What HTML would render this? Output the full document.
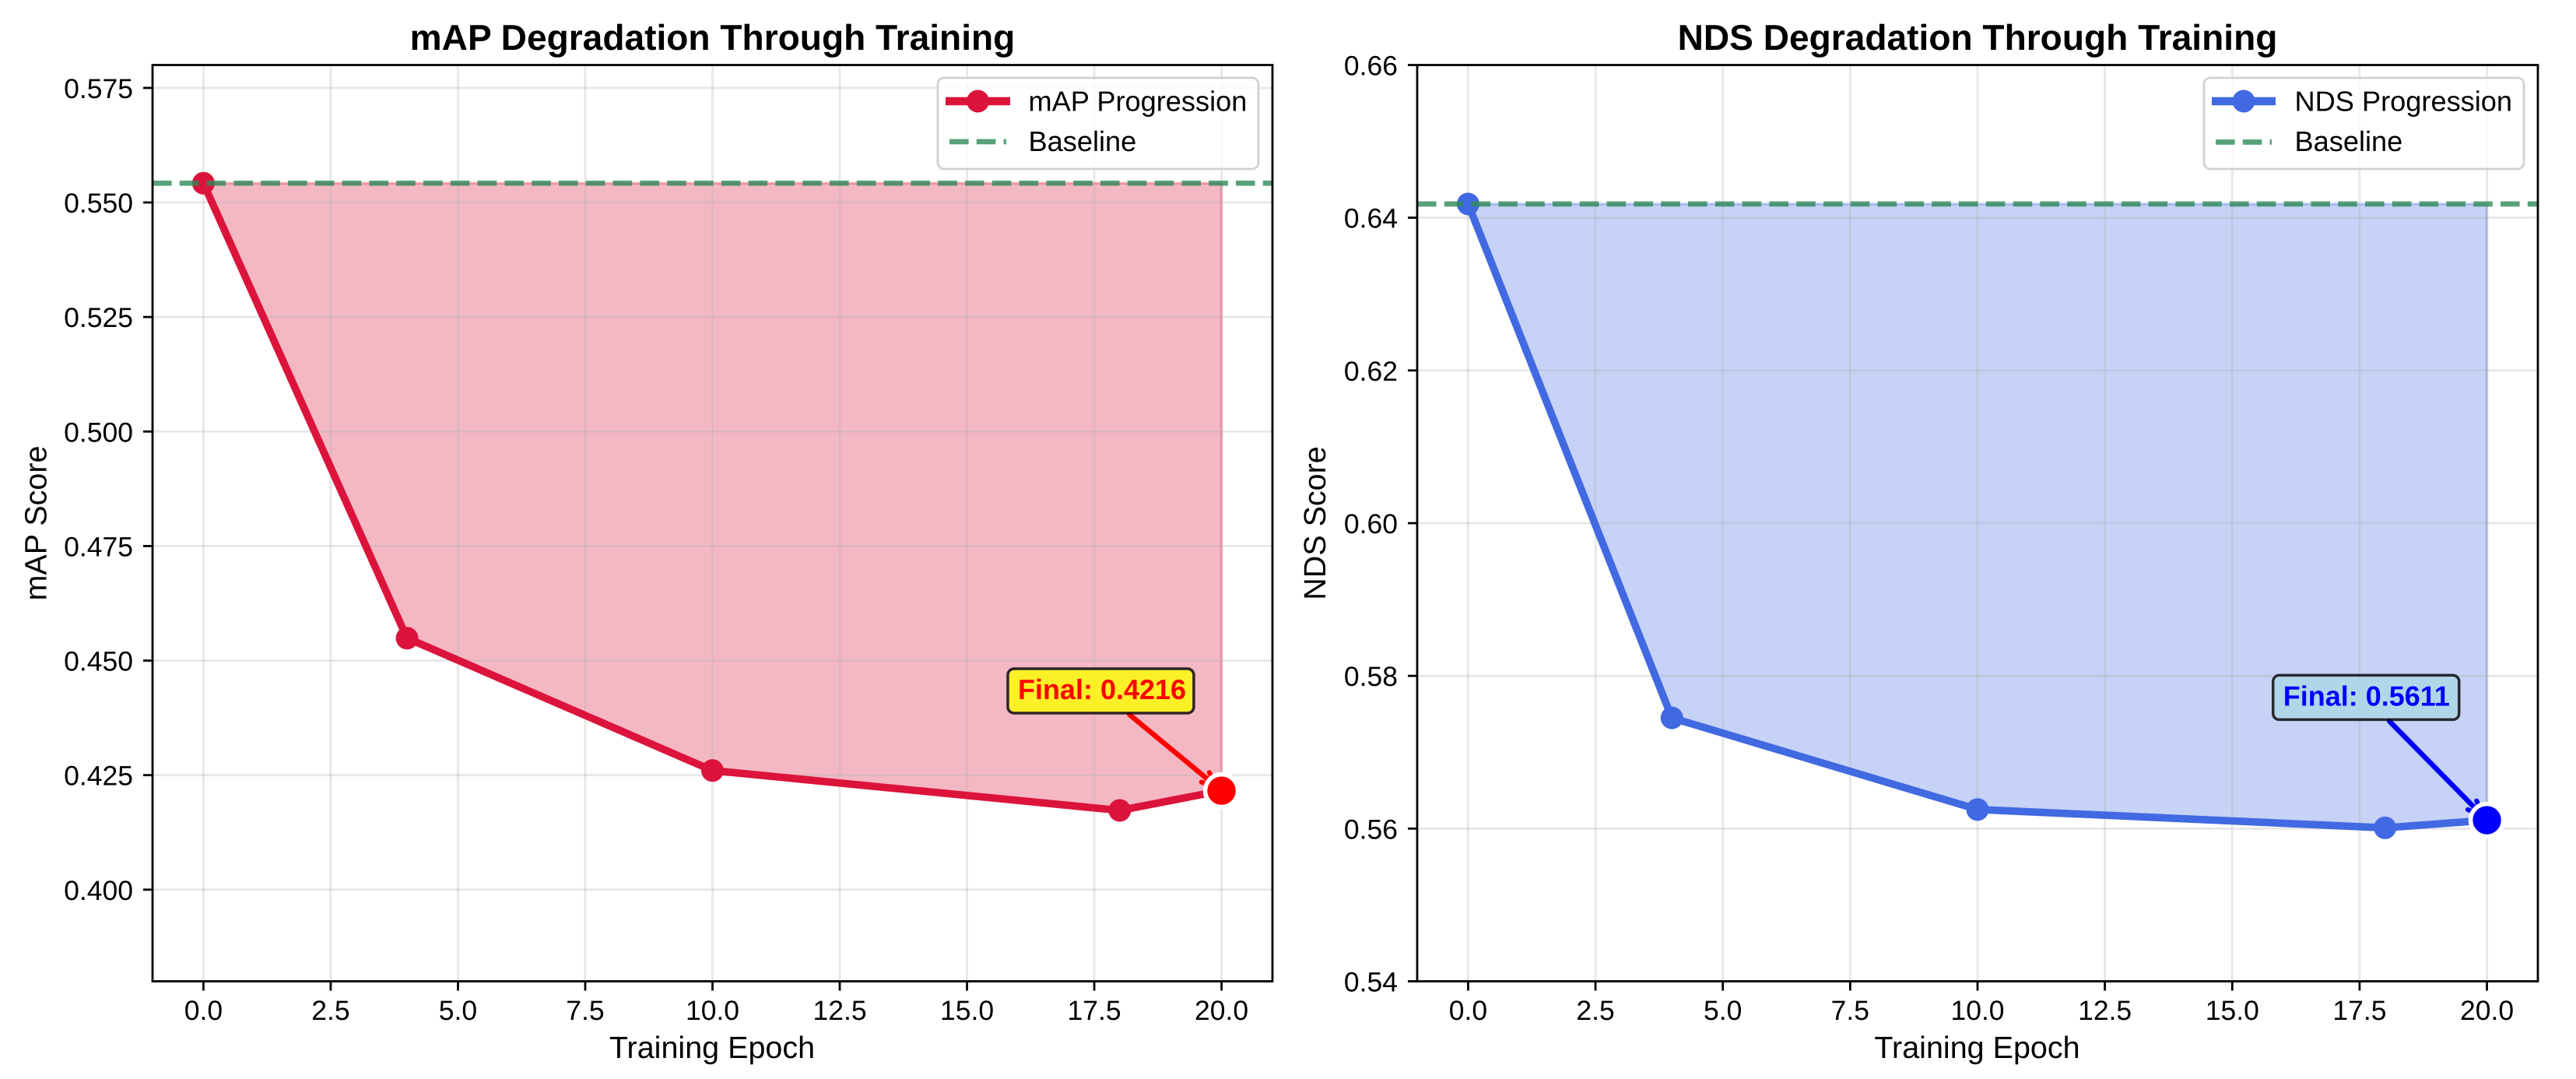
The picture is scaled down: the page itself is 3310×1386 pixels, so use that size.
<!DOCTYPE html>
<html lang="en">
<head>
<meta charset="utf-8">
<title>mAP and NDS Degradation Through Training</title>
<style>
html,body{margin:0;padding:0;background:#fff;}
body{width:3310px;height:1386px;overflow:hidden;}
svg{display:block;font-family:"Liberation Sans",Arial,sans-serif;text-rendering:geometricPrecision;}
.tick{font-size:35.5px;fill:#000;}
.axis-label{font-size:39.5px;fill:#000;}
.title{font-size:46.1px;font-weight:bold;fill:#000;}
.legend-text{font-size:36.2px;fill:#000;}
.note{font-size:36px;font-weight:bold;}
</style>
</head>
<body>
<svg id="figure" xmlns="http://www.w3.org/2000/svg" width="3310" height="1386" viewBox="0 0 3310 1386">
  <rect width="3310" height="1386" fill="#fff"/>

  <g id="map-panel">
    <g id="map-plot"></g>
    <text class="title" x="915.5" y="64" text-anchor="middle">mAP Degradation Through Training</text>
    <text class="axis-label" x="915" y="1359" text-anchor="middle">Training Epoch</text>
    <text class="axis-label" transform="translate(59.3 672) rotate(-90)" text-anchor="middle">mAP Score</text>
    <g>
      <rect x="1205" y="100" width="412" height="117" rx="8" fill="#fff" fill-opacity="0.8" stroke="#ccc" stroke-opacity="0.9" stroke-width="2.8"/>
      <g>
        <line x1="1215" x2="1298" y1="130" y2="130" stroke="#DC143C" stroke-width="10.4"/>
        <circle cx="1256.5" cy="130" r="14.5" fill="#DC143C"/>
        <text class="legend-text" x="1321.5" y="142.7">mAP Progression</text>
      </g>
      <g>
        <line x1="1220" x2="1293" y1="182" y2="182" stroke="#2E8B57" stroke-opacity="0.8" stroke-width="6.7" stroke-dasharray="24.6 10.2"/>
        <text class="legend-text" x="1321.5" y="194">Baseline</text>
      </g>
    </g>
  </g>

  <g id="nds-panel">
    <g id="nds-plot"></g>
    <text class="title" x="2541" y="64" text-anchor="middle">NDS Degradation Through Training</text>
    <text class="axis-label" x="2540.5" y="1359" text-anchor="middle">Training Epoch</text>
    <text class="axis-label" transform="translate(1703 672) rotate(-90)" text-anchor="middle">NDS Score</text>
    <g>
      <rect x="2832" y="100" width="411" height="117" rx="8" fill="#fff" fill-opacity="0.8" stroke="#ccc" stroke-opacity="0.9" stroke-width="2.8"/>
      <g>
        <line x1="2842" x2="2924" y1="130" y2="130" stroke="#4169E1" stroke-width="10.4"/>
        <circle cx="2883" cy="130" r="14.5" fill="#4169E1"/>
        <text class="legend-text" x="2948.5" y="142.7">NDS Progression</text>
      </g>
      <g>
        <line x1="2847" x2="2919" y1="182.5" y2="182.5" stroke="#2E8B57" stroke-opacity="0.8" stroke-width="6.7" stroke-dasharray="24.6 10.2"/>
        <text class="legend-text" x="2948.5" y="194">Baseline</text>
      </g>
    </g>
  </g>
</svg>

<script>
// ---- Chart data ----
const epochs = [0, 4, 10, 18, 20];
const mapValues = [0.5542, 0.4549, 0.426, 0.4173, 0.4216];
const ndsValues = [0.6418, 0.5745, 0.5625, 0.5601, 0.5611];
const mapBaseline = [0.5542];
const ndsBaseline = [0.6418];
const xTickValues = [0, 2.5, 5, 7.5, 10, 12.5, 15, 17.5, 20];
const xTickLabels = ['0.0', '2.5', '5.0', '7.5', '10.0', '12.5', '15.0', '17.5', '20.0'];
const mapYTickValues = [0.4, 0.425, 0.45, 0.475, 0.5, 0.525, 0.55, 0.575];
const mapYTickLabels = ['0.400', '0.425', '0.450', '0.475', '0.500', '0.525', '0.550', '0.575'];
const ndsYTickValues = [0.54, 0.56, 0.58, 0.6, 0.62, 0.64, 0.66];
const ndsYTickLabels = ['0.54', '0.56', '0.58', '0.60', '0.62', '0.64', '0.66'];
const xDomain = [-1, 21];
const mapYDomain = [0.38, 0.58];
const ndsYDomain = [0.54, 0.66];
const mapNoteAnchor = [16, 0.02];
const ndsNoteAnchor = [16, 0.015];

const NS = 'http://www.w3.org/2000/svg';
const TOP = 83.5;
const BOTTOM = 1260.5;

function make(parent, tag, attrs, text) {
  const node = document.createElementNS(NS, tag);
  for (const key in attrs) node.setAttribute(key, attrs[key]);
  if (text !== undefined) node.textContent = text;
  parent.appendChild(node);
  return node;
}

function drawPanel(host, left, right, values, baseline, yTicks, yLabels, yDomain, anchor, color, finalColor, noteFill) {
  const x = v => left + (v - xDomain[0]) / (xDomain[1] - xDomain[0]) * (right - left);
  const y = v => TOP + (yDomain[1] - v) / (yDomain[1] - yDomain[0]) * (BOTTOM - TOP);
  const GRID = '#b0b0b0';

  // area between baseline and series (sits under the grid)
  const top = y(baseline[0]);
  let areaPts = x(epochs[0]) + ',' + top + ' ' + x(epochs[epochs.length - 1]) + ',' + top;
  for (let i = epochs.length - 1; i >= 0; i--) areaPts += ' ' + x(epochs[i]) + ',' + y(values[i]);
  const area = make(host, 'polygon', {points: areaPts, fill: color, 'fill-opacity': 0.3, stroke: color, 'stroke-opacity': 0.3, 'stroke-width': 3.5});
  
  

  // grid
  xTickValues.forEach(t => {
    const el = make(host, 'line', {x1: x(t), x2: x(t), y1: TOP, y2: BOTTOM, stroke: GRID, 'stroke-opacity': 0.3, 'stroke-width': 2.8});
    
    
  });
  yTicks.forEach(t => {
    const el = make(host, 'line', {x1: left, x2: right, y1: y(t), y2: y(t), stroke: GRID, 'stroke-opacity': 0.3, 'stroke-width': 2.8});
    
    
  });

  // series line
  const linePts = epochs.map((e, i) => x(e) + ',' + y(values[i])).join(' ');
  const line = make(host, 'polyline', {points: linePts, fill: 'none', stroke: color, 'stroke-width': 9.6, 'stroke-linejoin': 'round'});
  
  

  // series points
  epochs.forEach((e, i) => {
    const el = make(host, 'circle', {cx: x(e), cy: y(values[i]), r: 14.5, fill: color});
    
    
  });

  // baseline
  const base = make(host, 'line', {x1: left, x2: right, y1: top, y2: top, stroke: '#2E8B57', 'stroke-opacity': 0.8, 'stroke-width': 6.7, 'stroke-dasharray': '24.6 10.2'});
  
  

  // spines
  const frame = make(host, 'rect', {x: left, y: TOP, width: right - left, height: BOTTOM - TOP, fill: 'none', stroke: '#000', 'stroke-width': 2.8});
  
  

  // x ticks
  xTickValues.forEach((t, i) => {
    const mark = make(host, 'line', {x1: x(t), x2: x(t), y1: BOTTOM, y2: BOTTOM + 12, stroke: '#000', 'stroke-width': 2.8});
    
    
    const label = make(host, 'text', {x: x(t), y: 1310, 'text-anchor': 'middle', class: 'tick'}, xTickLabels[i]);
    
    
  });

  // y ticks
  yTicks.forEach((t, i) => {
    const mark = make(host, 'line', {x1: left - 12, x2: left, y1: y(t), y2: y(t), stroke: '#000', 'stroke-width': 2.8});
    
    
    const label = make(host, 'text', {x: left - 25, y: y(t) + 13, 'text-anchor': 'end', class: 'tick'}, yLabels[i]);
    
    
  });

  // final-value annotation
  const last = values.length - 1;
  const px = x(epochs[last]);
  const py = y(values[last]);
  const textX = x(anchor[0]);
  const textY = y(values[last] + anchor[1]);
  const boxX = textX - 13;
  const boxY = textY - 39;
  const boxW = 239;
  const boxH = 57;
  const cx = boxX + boxW / 2;
  const cy = boxY + boxH / 2;
  const len = Math.hypot(px - cx, py - cy);
  const ux = (cx - px) / len;
  const uy = (cy - py) / len;
  const startT = (boxY + boxH + 2 - cy) / (py - cy);
  const sx = cx + (px - cx) * startT;
  const sy = cy + (py - cy) * startT;
  const tipX = px + ux * 7;
  const tipY = py + uy * 7;

  const shaft = make(host, 'line', {x1: sx, y1: sy, x2: tipX, y2: tipY, stroke: finalColor, 'stroke-width': 6.5, 'stroke-linecap': 'round'});
  
  

  const barbA = (px + ux * 27 - uy * 8) + ',' + (py + uy * 27 + ux * 8);
  const barbB = (px + ux * 27 + uy * 8) + ',' + (py + uy * 27 - ux * 8);
  const head = make(host, 'polyline', {points: barbA + ' ' + tipX + ',' + tipY + ' ' + barbB, fill: 'none', stroke: finalColor, 'stroke-width': 6, 'stroke-linecap': 'round'});
  
  

  const box = make(host, 'rect', {x: boxX, y: boxY, width: boxW, height: boxH, rx: 8, fill: noteFill, stroke: '#000', 'stroke-width': 3.5, opacity: 0.8});
  
  

  const note = make(host, 'text', {x: textX, y: textY, class: 'note', fill: finalColor}, 'Final: ' + values[last].toFixed(4));
  
  

  const finalDot = make(host, 'circle', {cx: px, cy: py, r: 21, fill: finalColor, stroke: '#fff', 'stroke-width': 5.6});
  
  
}

drawPanel(document.getElementById('map-plot'), 196, 1635, mapValues, mapBaseline, mapYTickValues, mapYTickLabels, mapYDomain, mapNoteAnchor, '#DC143C', '#FF0000', '#FFFF00');
drawPanel(document.getElementById('nds-plot'), 1821, 3261, ndsValues, ndsBaseline, ndsYTickValues, ndsYTickLabels, ndsYDomain, ndsNoteAnchor, '#4169E1', '#0000FF', '#ADD8E6');
</script>
</body>
</html>
